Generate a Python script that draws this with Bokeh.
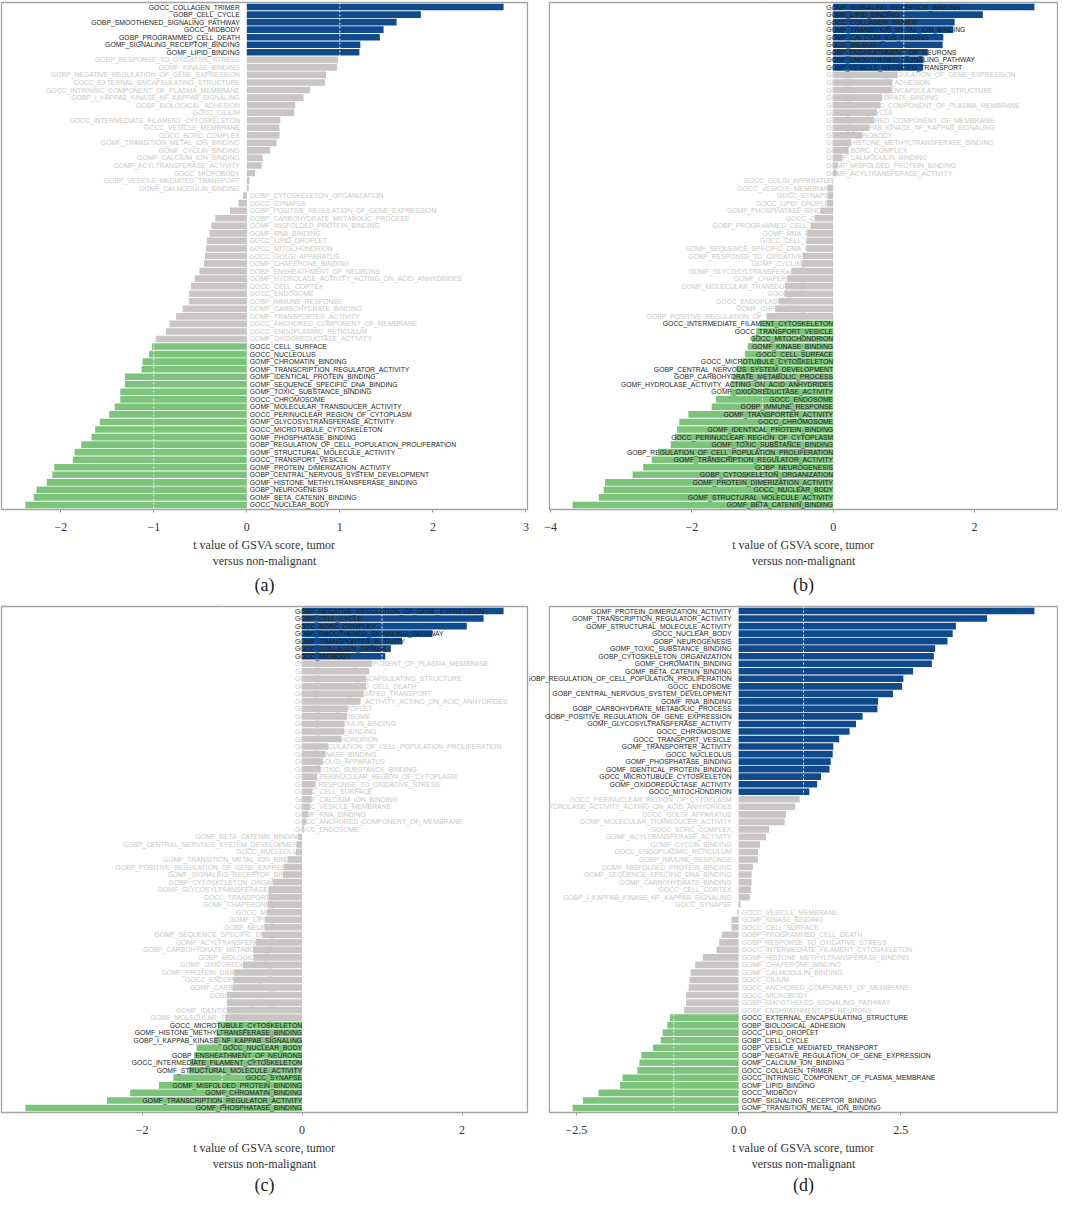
from bokeh.plotting import figure
from bokeh.models import ColumnDataSource, Range1d, FixedTicker, Span, Title
from bokeh.layouts import gridplot
from bokeh.embed import file_html
from bokeh.resources import INLINE
from bokeh.core.properties import value

# ---------------- data (top to bottom) ----------------
a_terms = [
    "GOCC_COLLAGEN_TRIMER", "GOBP_CELL_CYCLE", "GOBP_SMOOTHENED_SIGNALING_PATHWAY", "GOCC_MIDBODY",
    "GOBP_PROGRAMMED_CELL_DEATH", "GOMF_SIGNALING_RECEPTOR_BINDING", "GOMF_LIPID_BINDING",
    "GOBP_RESPONSE_TO_OXIDATIVE_STRESS", "GOMF_KINASE_BINDING", "GOBP_NEGATIVE_REGULATION_OF_GENE_EXPRESSION",
    "GOCC_EXTERNAL_ENCAPSULATING_STRUCTURE", "GOCC_INTRINSIC_COMPONENT_OF_PLASMA_MEMBRANE",
    "GOBP_I_KAPPAB_KINASE_NF_KAPPAB_SIGNALING", "GOBP_BIOLOGICAL_ADHESION", "GOCC_CILIUM",
    "GOCC_INTERMEDIATE_FILAMENT_CYTOSKELETON", "GOCC_VESICLE_MEMBRANE", "GOCC_BORC_COMPLEX",
    "GOMF_TRANSITION_METAL_ION_BINDING", "GOMF_CYCLIN_BINDING", "GOMF_CALCIUM_ION_BINDING",
    "GOMF_ACYLTRANSFERASE_ACTIVITY", "GOCC_MICROBODY", "GOBP_VESICLE_MEDIATED_TRANSPORT",
    "GOMF_CALMODULIN_BINDING", "GOBP_CYTOSKELETON_ORGANIZATION", "GOCC_SYNAPSE",
    "GOBP_POSITIVE_REGULATION_OF_GENE_EXPRESSION", "GOBP_CARBOHYDRATE_METABOLIC_PROCESS",
    "GOMF_MISFOLDED_PROTEIN_BINDING", "GOMF_RNA_BINDING", "GOCC_LIPID_DROPLET", "GOCC_MITOCHONDRION",
    "GOCC_GOLGI_APPARATUS", "GOMF_CHAPERONE_BINDING", "GOBP_ENSHEATHMENT_OF_NEURONS",
    "GOMF_HYDROLASE_ACTIVITY_ACTING_ON_ACID_ANHYDRIDES", "GOCC_CELL_CORTEX", "GOCC_ENDOSOME",
    "GOBP_IMMUNE_RESPONSE", "GOMF_CARBOHYDRATE_BINDING", "GOMF_TRANSPORTER_ACTIVITY",
    "GOCC_ANCHORED_COMPONENT_OF_MEMBRANE", "GOCC_ENDOPLASMIC_RETICULUM", "GOMF_OXIDOREDUCTASE_ACTIVITY",
    "GOCC_CELL_SURFACE", "GOCC_NUCLEOLUS", "GOMF_CHROMATIN_BINDING", "GOMF_TRANSCRIPTION_REGULATOR_ACTIVITY",
    "GOMF_IDENTICAL_PROTEIN_BINDING", "GOMF_SEQUENCE_SPECIFIC_DNA_BINDING", "GOMF_TOXIC_SUBSTANCE_BINDING",
    "GOCC_CHROMOSOME", "GOMF_MOLECULAR_TRANSDUCER_ACTIVITY", "GOCC_PERINUCLEAR_REGION_OF_CYTOPLASM",
    "GOMF_GLYCOSYLTRANSFERASE_ACTIVITY", "GOCC_MICROTUBULE_CYTOSKELETON", "GOMF_PHOSPHATASE_BINDING",
    "GOBP_REGULATION_OF_CELL_POPULATION_PROLIFERATION", "GOMF_STRUCTURAL_MOLECULE_ACTIVITY",
    "GOCC_TRANSPORT_VESICLE", "GOMF_PROTEIN_DIMERIZATION_ACTIVITY", "GOBP_CENTRAL_NERVOUS_SYSTEM_DEVELOPMENT",
    "GOMF_HISTONE_METHYLTRANSFERASE_BINDING", "GOBP_NEUROGENESIS", "GOMF_BETA_CATENIN_BINDING",
    "GOCC_NUCLEAR_BODY",
]
a_t = [
    2.76, 1.87, 1.61, 1.47, 1.43, 1.22, 1.21, 0.98, 0.97, 0.85, 0.84, 0.68, 0.61, 0.52, 0.51,
    0.36, 0.35, 0.35, 0.32, 0.25, 0.17, 0.16, 0.09, 0.03, 0.02, -0.04, -0.09, -0.18, -0.34,
    -0.38, -0.40, -0.43, -0.44, -0.45, -0.46, -0.51, -0.56, -0.60, -0.62, -0.62, -0.69, -0.76,
    -0.83, -0.87, -0.98, -1.02, -1.05, -1.12, -1.13, -1.31, -1.31, -1.36, -1.36, -1.42, -1.48,
    -1.58, -1.63, -1.67, -1.78, -1.85, -1.87, -2.07, -2.09, -2.15, -2.26, -2.29, -2.38,
]

b_terms = [
    "GOMF_SIGNALING_RECEPTOR_BINDING", "GOMF_LIPID_BINDING", "GOCC_COLLAGEN_TRIMER",
    "GOMF_TRANSITION_METAL_ION_BINDING", "GOMF_CALCIUM_ION_BINDING", "GOCC_MIDBODY",
    "GOBP_ENSHEATHMENT_OF_NEURONS", "GOBP_SMOOTHENED_SIGNALING_PATHWAY", "GOBP_VESICLE_MEDIATED_TRANSPORT",
    "GOBP_NEGATIVE_REGULATION_OF_GENE_EXPRESSION", "GOBP_BIOLOGICAL_ADHESION",
    "GOCC_EXTERNAL_ENCAPSULATING_STRUCTURE", "GOMF_CARBOHYDRATE_BINDING",
    "GOCC_INTRINSIC_COMPONENT_OF_PLASMA_MEMBRANE", "GOBP_CELL_CYCLE", "GOCC_ANCHORED_COMPONENT_OF_MEMBRANE",
    "GOBP_I_KAPPAB_KINASE_NF_KAPPAB_SIGNALING", "GOCC_MICROBODY", "GOMF_HISTONE_METHYLTRANSFERASE_BINDING",
    "GOCC_BORC_COMPLEX", "GOMF_CALMODULIN_BINDING", "GOMF_MISFOLDED_PROTEIN_BINDING",
    "GOMF_ACYLTRANSFERASE_ACTIVITY", "GOCC_GOLGI_APPARATUS", "GOCC_VESICLE_MEMBRANE", "GOCC_SYNAPSE",
    "GOCC_LIPID_DROPLET", "GOMF_PHOSPHATASE_BINDING", "GOCC_CILIUM", "GOBP_PROGRAMMED_CELL_DEATH",
    "GOMF_RNA_BINDING", "GOCC_CELL_CORTEX", "GOMF_SEQUENCE_SPECIFIC_DNA_BINDING",
    "GOBP_RESPONSE_TO_OXIDATIVE_STRESS", "GOMF_CYCLIN_BINDING", "GOMF_GLYCOSYLTRANSFERASE_ACTIVITY",
    "GOMF_CHAPERONE_BINDING", "GOMF_MOLECULAR_TRANSDUCER_ACTIVITY", "GOCC_NUCLEOLUS",
    "GOCC_ENDOPLASMIC_RETICULUM", "GOMF_CHROMATIN_BINDING", "GOBP_POSITIVE_REGULATION_OF_GENE_EXPRESSION",
    "GOCC_INTERMEDIATE_FILAMENT_CYTOSKELETON", "GOCC_TRANSPORT_VESICLE", "GOCC_MITOCHONDRION",
    "GOMF_KINASE_BINDING", "GOCC_CELL_SURFACE", "GOCC_MICROTUBULE_CYTOSKELETON",
    "GOBP_CENTRAL_NERVOUS_SYSTEM_DEVELOPMENT", "GOBP_CARBOHYDRATE_METABOLIC_PROCESS",
    "GOMF_HYDROLASE_ACTIVITY_ACTING_ON_ACID_ANHYDRIDES", "GOMF_OXIDOREDUCTASE_ACTIVITY", "GOCC_ENDOSOME",
    "GOBP_IMMUNE_RESPONSE", "GOMF_TRANSPORTER_ACTIVITY", "GOCC_CHROMOSOME", "GOMF_IDENTICAL_PROTEIN_BINDING",
    "GOCC_PERINUCLEAR_REGION_OF_CYTOPLASM", "GOMF_TOXIC_SUBSTANCE_BINDING",
    "GOBP_REGULATION_OF_CELL_POPULATION_PROLIFERATION", "GOMF_TRANSCRIPTION_REGULATOR_ACTIVITY",
    "GOBP_NEUROGENESIS", "GOBP_CYTOSKELETON_ORGANIZATION", "GOMF_PROTEIN_DIMERIZATION_ACTIVITY",
    "GOCC_NUCLEAR_BODY", "GOMF_STRUCTURAL_MOLECULE_ACTIVITY", "GOMF_BETA_CATENIN_BINDING",
]
b_t = [
    2.85, 2.12, 1.72, 1.70, 1.56, 1.55, 1.34, 1.28, 1.27, 0.91, 0.84, 0.83, 0.69, 0.67, 0.62,
    0.58, 0.51, 0.41, 0.25, 0.22, 0.13, 0.06, 0.05, -0.01, -0.08, -0.08, -0.09, -0.18, -0.26,
    -0.32, -0.37, -0.38, -0.38, -0.43, -0.45, -0.59, -0.65, -0.68, -0.69, -0.77, -0.82, -0.94,
    -1.04, -1.09, -1.15, -1.21, -1.25, -1.30, -1.37, -1.42, -1.45, -1.46, -1.66, -1.72, -2.05,
    -2.18, -2.21, -2.24, -2.30, -2.48, -2.57, -2.69, -2.84, -3.23, -3.25, -3.32, -3.69,
]

c_terms = [
    "GOBP_NEGATIVE_REGULATION_OF_GENE_EXPRESSION", "GOBP_CELL_CYCLE", "GOCC_BORC_COMPLEX",
    "GOBP_SMOOTHENED_SIGNALING_PATHWAY", "GOMF_TRANSPORTER_ACTIVITY", "GOCC_COLLAGEN_TRIMER", "GOCC_MIDBODY",
    "GOCC_INTRINSIC_COMPONENT_OF_PLASMA_MEMBRANE", "GOCC_CILIUM", "GOCC_EXTERNAL_ENCAPSULATING_STRUCTURE",
    "GOBP_PROGRAMMED_CELL_DEATH", "GOBP_VESICLE_MEDIATED_TRANSPORT",
    "GOMF_HYDROLASE_ACTIVITY_ACTING_ON_ACID_ANHYDRIDES", "GOCC_LIPID_DROPLET", "GOCC_CHROMOSOME",
    "GOMF_CALMODULIN_BINDING", "GOMF_CYCLIN_BINDING", "GOCC_MITOCHONDRION",
    "GOBP_REGULATION_OF_CELL_POPULATION_PROLIFERATION", "GOMF_KINASE_BINDING", "GOCC_GOLGI_APPARATUS",
    "GOMF_TOXIC_SUBSTANCE_BINDING", "GOCC_PERINUCLEAR_REGION_OF_CYTOPLASM",
    "GOBP_RESPONSE_TO_OXIDATIVE_STRESS", "GOCC_CELL_SURFACE", "GOMF_CALCIUM_ION_BINDING",
    "GOCC_VESICLE_MEMBRANE", "GOMF_RNA_BINDING", "GOCC_ANCHORED_COMPONENT_OF_MEMBRANE", "GOCC_ENDOSOME",
    "GOMF_BETA_CATENIN_BINDING", "GOBP_CENTRAL_NERVOUS_SYSTEM_DEVELOPMENT", "GOCC_NUCLEOLUS",
    "GOMF_TRANSITION_METAL_ION_BINDING", "GOBP_POSITIVE_REGULATION_OF_GENE_EXPRESSION",
    "GOMF_SIGNALING_RECEPTOR_BINDING", "GOBP_CYTOSKELETON_ORGANIZATION", "GOMF_GLYCOSYLTRANSFERASE_ACTIVITY",
    "GOCC_TRANSPORT_VESICLE", "GOMF_CHAPERONE_BINDING", "GOCC_MICROBODY", "GOMF_LIPID_BINDING",
    "GOBP_NEUROGENESIS", "GOMF_SEQUENCE_SPECIFIC_DNA_BINDING", "GOMF_ACYLTRANSFERASE_ACTIVITY",
    "GOBP_CARBOHYDRATE_METABOLIC_PROCESS", "GOBP_BIOLOGICAL_ADHESION", "GOMF_OXIDOREDUCTASE_ACTIVITY",
    "GOMF_PROTEIN_DIMERIZATION_ACTIVITY", "GOCC_ENDOPLASMIC_RETICULUM", "GOMF_CARBOHYDRATE_BINDING",
    "GOBP_IMMUNE_RESPONSE", "GOCC_CELL_CORTEX", "GOMF_IDENTICAL_PROTEIN_BINDING",
    "GOMF_MOLECULAR_TRANSDUCER_ACTIVITY", "GOCC_MICROTUBULE_CYTOSKELETON",
    "GOMF_HISTONE_METHYLTRANSFERASE_BINDING", "GOBP_I_KAPPAB_KINASE_NF_KAPPAB_SIGNALING",
    "GOCC_NUCLEAR_BODY", "GOBP_ENSHEATHMENT_OF_NEURONS", "GOCC_INTERMEDIATE_FILAMENT_CYTOSKELETON",
    "GOMF_STRUCTURAL_MOLECULE_ACTIVITY", "GOCC_SYNAPSE", "GOMF_MISFOLDED_PROTEIN_BINDING",
    "GOMF_CHROMATIN_BINDING", "GOMF_TRANSCRIPTION_REGULATOR_ACTIVITY", "GOMF_PHOSPHATASE_BINDING",
]
c_t = [
    2.52, 2.27, 2.06, 1.63, 1.25, 1.11, 1.04, 0.87, 0.84, 0.80, 0.80, 0.77, 0.73, 0.57, 0.56,
    0.53, 0.53, 0.49, 0.33, 0.29, 0.26, 0.23, 0.19, 0.17, 0.13, 0.12, 0.10, 0.08, 0.05, 0.02,
    -0.05, -0.07, -0.08, -0.18, -0.23, -0.24, -0.37, -0.42, -0.42, -0.43, -0.44, -0.46, -0.47,
    -0.50, -0.58, -0.61, -0.61, -0.74, -0.85, -0.86, -0.87, -0.94, -0.94, -0.94, -0.96, -1.05,
    -1.07, -1.09, -1.32, -1.35, -1.40, -1.42, -1.61, -1.79, -2.15, -2.44, -3.46,
]

d_terms = [
    "GOMF_PROTEIN_DIMERIZATION_ACTIVITY", "GOMF_TRANSCRIPTION_REGULATOR_ACTIVITY",
    "GOMF_STRUCTURAL_MOLECULE_ACTIVITY", "GOCC_NUCLEAR_BODY", "GOBP_NEUROGENESIS",
    "GOMF_TOXIC_SUBSTANCE_BINDING", "GOBP_CYTOSKELETON_ORGANIZATION", "GOMF_CHROMATIN_BINDING",
    "GOMF_BETA_CATENIN_BINDING", "GOBP_REGULATION_OF_CELL_POPULATION_PROLIFERATION", "GOCC_ENDOSOME",
    "GOBP_CENTRAL_NERVOUS_SYSTEM_DEVELOPMENT", "GOMF_RNA_BINDING", "GOBP_CARBOHYDRATE_METABOLIC_PROCESS",
    "GOBP_POSITIVE_REGULATION_OF_GENE_EXPRESSION", "GOMF_GLYCOSYLTRANSFERASE_ACTIVITY", "GOCC_CHROMOSOME",
    "GOCC_TRANSPORT_VESICLE", "GOMF_TRANSPORTER_ACTIVITY", "GOCC_NUCLEOLUS", "GOMF_PHOSPHATASE_BINDING",
    "GOMF_IDENTICAL_PROTEIN_BINDING", "GOCC_MICROTUBULE_CYTOSKELETON", "GOMF_OXIDOREDUCTASE_ACTIVITY",
    "GOCC_MITOCHONDRION", "GOCC_PERINUCLEAR_REGION_OF_CYTOPLASM",
    "GOMF_HYDROLASE_ACTIVITY_ACTING_ON_ACID_ANHYDRIDES", "GOCC_GOLGI_APPARATUS",
    "GOMF_MOLECULAR_TRANSDUCER_ACTIVITY", "GOCC_BORC_COMPLEX", "GOMF_ACYLTRANSFERASE_ACTIVITY",
    "GOMF_CYCLIN_BINDING", "GOCC_ENDOPLASMIC_RETICULUM", "GOBP_IMMUNE_RESPONSE",
    "GOMF_MISFOLDED_PROTEIN_BINDING", "GOMF_SEQUENCE_SPECIFIC_DNA_BINDING", "GOMF_CARBOHYDRATE_BINDING",
    "GOCC_CELL_CORTEX", "GOBP_I_KAPPAB_KINASE_NF_KAPPAB_SIGNALING", "GOCC_SYNAPSE", "GOCC_VESICLE_MEMBRANE",
    "GOMF_KINASE_BINDING", "GOCC_CELL_SURFACE", "GOBP_PROGRAMMED_CELL_DEATH",
    "GOBP_RESPONSE_TO_OXIDATIVE_STRESS", "GOCC_INTERMEDIATE_FILAMENT_CYTOSKELETON",
    "GOMF_HISTONE_METHYLTRANSFERASE_BINDING", "GOMF_CHAPERONE_BINDING", "GOMF_CALMODULIN_BINDING",
    "GOCC_CILIUM", "GOCC_ANCHORED_COMPONENT_OF_MEMBRANE", "GOCC_MICROBODY",
    "GOBP_SMOOTHENED_SIGNALING_PATHWAY", "GOBP_ENSHEATHMENT_OF_NEURONS",
    "GOCC_EXTERNAL_ENCAPSULATING_STRUCTURE", "GOBP_BIOLOGICAL_ADHESION", "GOCC_LIPID_DROPLET",
    "GOBP_CELL_CYCLE", "GOBP_VESICLE_MEDIATED_TRANSPORT", "GOBP_NEGATIVE_REGULATION_OF_GENE_EXPRESSION",
    "GOMF_CALCIUM_ION_BINDING", "GOCC_COLLAGEN_TRIMER", "GOCC_INTRINSIC_COMPONENT_OF_PLASMA_MEMBRANE",
    "GOMF_LIPID_BINDING", "GOCC_MIDBODY", "GOMF_SIGNALING_RECEPTOR_BINDING",
    "GOMF_TRANSITION_METAL_ION_BINDING",
]
d_t = [
    4.56, 3.83, 3.35, 3.30, 3.22, 3.03, 3.01, 2.98, 2.69, 2.54, 2.52, 2.38, 2.15, 2.14, 1.91,
    1.81, 1.71, 1.55, 1.46, 1.45, 1.42, 1.40, 1.27, 1.21, 1.09, 0.94, 0.87, 0.73, 0.71, 0.47,
    0.42, 0.33, 0.30, 0.30, 0.22, 0.20, 0.20, 0.19, 0.17, 0.03, -0.02, -0.11, -0.11, -0.26,
    -0.30, -0.34, -0.55, -0.67, -0.74, -0.76, -0.77, -0.81, -0.81, -0.84, -1.06, -1.10, -1.17,
    -1.20, -1.32, -1.50, -1.53, -1.56, -1.79, -1.83, -2.16, -2.40, -2.56,
]

a_ticks = [-2, -1, 0, 1, 2, 3]
b_ticks = [-4, -2, 0, 2]
c_ticks = [-2, 0, 2]
d_ticks = [-2.5, 0.0, 2.5]
a_tick_labels = ["\u22122", "\u22121", "0", "1", "2", "3"]
b_tick_labels = ["\u22124", "\u22122", "0", "2"]
c_tick_labels = ["\u22122", "0", "2"]
d_tick_labels = ["\u22122.5", "0.0", "2.5"]

axis_title_1 = "t value of GSVA score, tumor"
axis_title_2 = "versus non-malignant"

BLUE = "#0f4b8c"
GREEN = "#7cc47b"
GRAY = "#c9c5c5"
DARK_TXT = "#1c1c1c"
GRAY_TXT = "#c8c8c8"
SANS = value("Liberation Sans")
SERIF = "Liberation Serif"


def make_panel(terms, tvals, ticks, tick_labels, caption, mode, height, top, left_b, right_b, cap_gap):
    n = len(terms)
    ys = [n - 1 - i for i in range(n)]
    lo, hi = min(tvals), max(tvals)
    pad = 0.05 * (hi - lo)
    cols = [BLUE if t > 1 else (GREEN if t < -1 else GRAY) for t in tvals]

    p = figure(width=529, height=height, output_backend="svg", toolbar_location=None, tools="",
               x_range=Range1d(lo - pad, hi + pad), y_range=Range1d(-0.6, n - 0.4),
               min_border_left=left_b, min_border_right=right_b, min_border_top=top,
               min_border_bottom=0)
    p.background_fill_color = "white"
    p.border_fill_color = "white"
    p.outline_line_color = "#a3a3a3"
    p.outline_line_width = 1.3
    p.xgrid.visible = False
    p.ygrid.visible = False
    p.yaxis.visible = False

    def subset(pos, colored):
        d = dict(y=[], t=[], label=[])
        for y, t, lab, c in zip(ys, tvals, terms, cols):
            if (t >= 0) == pos and (c != GRAY) == colored:
                d["y"].append(y)
                d["t"].append(t)
                d["label"].append(lab)
        return ColumnDataSource(d)

    if mode == "opposite":
        pos_align, pos_off, neg_align, neg_off = "right", -7, "left", 3
    else:
        pos_align, pos_off, neg_align, neg_off = "left", -7, "right", 0

    def add_text(src, align, off, color):
        return p.text(x=0, y="y", text="label", source=src, text_align=align, x_offset=off,
                      text_baseline="middle", text_font=SANS, text_font_size="6.8px",
                      text_color=color)

    # gray labels sit beneath bars
    add_text(subset(True, False), pos_align, pos_off, GRAY_TXT)
    add_text(subset(False, False), neg_align, neg_off, GRAY_TXT)

    bars = ColumnDataSource(dict(y=ys, t=tvals, color=cols))
    p.hbar(y="y", left=0, right="t", height=0.88, fill_color="color", line_color=None, source=bars)

    for xv in (-1, 1):
        p.add_layout(Span(location=xv, dimension="height", line_color="white",
                          line_dash="2 2", line_width=1, line_alpha=0.9))

    r1 = add_text(subset(True, True), pos_align, pos_off, DARK_TXT)
    r2 = add_text(subset(False, True), neg_align, neg_off, DARK_TXT)
    r1.level = "overlay"
    r2.level = "overlay"

    ax = p.xaxis[0]
    ax.ticker = FixedTicker(ticks=ticks)
    ax.major_label_overrides = {tk: lb for tk, lb in zip(ticks, tick_labels)}
    ax.axis_line_color = None
    ax.major_tick_line_color = "#9a9a9a"
    ax.major_tick_out = 3
    ax.major_tick_in = 0
    ax.minor_tick_line_color = None
    ax.major_label_standoff = 10
    ax.major_label_text_font = SERIF
    ax.major_label_text_font_size = "12px"
    ax.major_label_text_color = "#333333"

    p.add_layout(Title(text=axis_title_1, align="center", text_font=SERIF, text_font_size="12px",
                       text_font_style="normal", text_color="#333333", standoff=4), "below")
    p.add_layout(Title(text=axis_title_2, align="center", text_font=SERIF, text_font_size="12px",
                       text_font_style="normal", text_color="#333333", standoff=-4), "below")
    p.add_layout(Title(text=caption, align="center", text_font=SERIF, text_font_size="18px",
                       text_font_style="normal", text_color="#222222", standoff=cap_gap), "below")
    return p


pa = make_panel(a_terms, a_t, a_ticks, a_tick_labels, "(a)", "opposite", 601, 2, 1, 2, 14)
pb = make_panel(b_terms, b_t, b_ticks, b_tick_labels, "(b)", "same", 601, 2, 7, 1, 14)
pc = make_panel(c_terms, c_t, c_ticks, c_tick_labels, "(c)", "same", 598, 5, 1, 2, 9)
pd = make_panel(d_terms, d_t, d_ticks, d_tick_labels, "(d)", "opposite", 598, 5, 20, 1, 9)

grid = gridplot([[pa, pb], [pc, pd]], toolbar_location=None)
open("out.html", "w").write(file_html(grid, INLINE))
